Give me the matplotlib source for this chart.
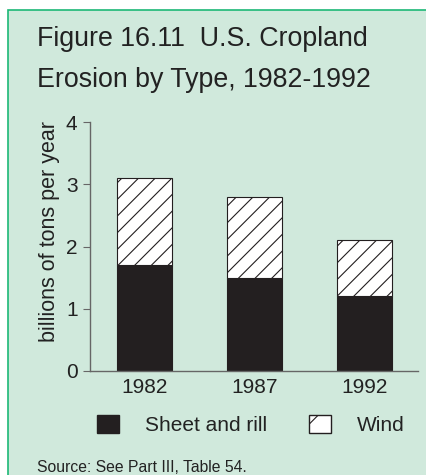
import matplotlib
matplotlib.use("Agg")
import matplotlib.pyplot as plt
from matplotlib.patches import Rectangle, Patch

plt.rcParams['font.family'] = ['Liberation Sans', 'DejaVu Sans']
plt.rcParams['hatch.linewidth'] = 0.8
plt.rcParams['hatch.color'] = '#333333'

# data (billions of tons per year)
years = ['1982', '1987', '1992']
sheet_rill = [1.7, 1.5, 1.2]
wind = [1.4, 1.3, 0.9]

bg = '#d0e9dc'
ink = '#222222'
axis_col = '#666666'

W, H = 427, 475
fig = plt.figure(figsize=(W / 100, H / 100), dpi=100)
fig.patch.set_facecolor('white')

# green panel behind everything
fig.patches.append(Rectangle((8 / W, -0.05), 1.2, 1 - 10 / H + 0.05,
                             transform=fig.transFigure, facecolor=bg,
                             edgecolor='#1db877', linewidth=1.2, zorder=-5))

fig.text(37 / W, 1 - 46 / H, 'Figure 16.11  U.S. Cropland', fontsize=19.3,
         color=ink, va='baseline', ha='left')
fig.text(37 / W, 1 - 87 / H, 'Erosion by Type, 1982-1992', fontsize=19.3,
         color=ink, va='baseline', ha='left')

ax = fig.add_axes([90 / W, 1 - 371 / H, (418 - 90) / W, (371 - 122) / H])
ax.set_facecolor('none')
x = range(len(years))
ax.bar(x, sheet_rill, width=0.5, color='#231f20', edgecolor='#231f20', linewidth=0.8)
ax.bar(x, wind, width=0.5, bottom=sheet_rill, color='white', edgecolor='#231f20',
       linewidth=0.8, hatch='//')

ax.set_xlim(-0.495, 2.486)
ax.set_ylim(0, 4)
ax.set_yticks([0, 1, 2, 3, 4])
ax.set_xticks(list(x))
ax.set_xticklabels(years)
ax.tick_params(axis='y', length=5, color=axis_col, labelsize=15, labelcolor=ink, pad=4)
ax.tick_params(axis='x', length=0, labelsize=15, labelcolor=ink, pad=5)
for s in ['top', 'right']:
    ax.spines[s].set_visible(False)
for s in ['left', 'bottom']:
    ax.spines[s].set_color(axis_col)
    ax.spines[s].set_linewidth(1.0)
ax.set_ylabel('billions of tons per year', fontsize=15.5, color=ink)
ax.yaxis.set_label_coords(-0.09, 0.56)

handles = [Patch(facecolor='#231f20', edgecolor='#231f20', label='Sheet and rill'),
           Patch(facecolor='white', edgecolor='#231f20', hatch='/', label='Wind')]
fig.legend(handles=handles, loc='center', bbox_to_anchor=(251 / W, 1 - 425 / H),
           ncol=2, frameon=False, fontsize=15, handlelength=1.06, handleheight=0.95,
           handletextpad=1.25, columnspacing=2.0, labelcolor=ink)

fig.text(37 / W, 1 - 467 / H, 'Source: See Part III, Table 54.', fontsize=11.3,
         color=ink, va='center', ha='left')

fig.savefig('out.png', dpi=100)
